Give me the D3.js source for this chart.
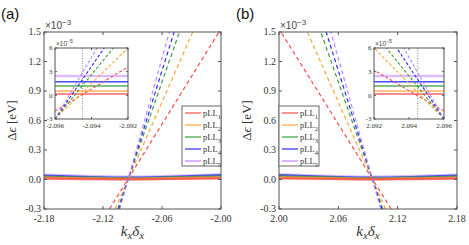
<!DOCTYPE html>
<html>
<head>
<meta charset="utf-8">
<script src="https://cdn.jsdelivr.net/npm/d3@7"></script>
<style>
  body { margin: 0; background: #fff; }
  svg { display: block; }
  text { font-family: "Liberation Serif", "DejaVu Serif", serif; fill: #333; }
</style>
</head>
<body>
<script>
// level names and colours
const levelNames = ["1", "2", "3", "4", "5"];
const colors = ["#ff4a4a", "#ffa53a", "#3a9e3a", "#2a2aff", "#bd86ff"];

// axis ticks
const yTicks = [-0.3, 0.0, 0.3, 0.6, 0.9, 1.2, 1.5];
const xTicksA = [-2.18, -2.12, -2.06, -2.00];
const xTicksB = [2.00, 2.06, 2.12, 2.18];
const insetYTicks = [-3, 0, 3, 6];
const insetXTicksA = [-2.096, -2.094, -2.092];
const insetXTicksB = [2.092, 2.094, 2.096];

// solid curves (x1e-3 eV)
const solidKxA = [-2.18, -2.14, -2.0945, -2.05, -2.00];
const solidKxB = [2.00, 2.05, 2.0945, 2.14, 2.18];
const solidA = [
  [0.010, 0.005, 0.0016, 0.006, 0.011],
  [0.019, 0.011, 0.0054, 0.012, 0.021],
  [0.029, 0.019, 0.0118, 0.020, 0.031],
  [0.039, 0.026, 0.0172, 0.027, 0.043],
  [0.044, 0.032, 0.0245, 0.033, 0.047]
];
const solidB = [
  [0.011, 0.006, 0.0016, 0.005, 0.010],
  [0.021, 0.012, 0.0054, 0.011, 0.019],
  [0.031, 0.020, 0.0118, 0.019, 0.029],
  [0.043, 0.027, 0.0172, 0.026, 0.039],
  [0.047, 0.033, 0.0245, 0.032, 0.044]
];

// dashed lines in main panels: [kx, de] end points
const dashA = [
  [[-2.1134, -0.3], [-2.0020, 1.5]],
  [[-2.1077, -0.3], [-2.0287, 1.5]],
  [[-2.1050, -0.3], [-2.0423, 1.5]],
  [[-2.1039, -0.3], [-2.0477, 1.5]],
  [[-2.1029, -0.3], [-2.0525, 1.5]]
];
const dashB = [
  [[2.1134, -0.3], [2.0020, 1.5]],
  [[2.1077, -0.3], [2.0287, 1.5]],
  [[2.1050, -0.3], [2.0423, 1.5]],
  [[2.1039, -0.3], [2.0477, 1.5]],
  [[2.1029, -0.3], [2.0525, 1.5]]
];

// insets (x1e-5 eV)
const insetLevels = [0.16, 0.54, 1.18, 1.72, 2.45];
const insetDashA = [
  [[-2.096, -2.0], [-2.092, 3.6]],
  [[-2.096, -3.0], [-2.092, 6.0]],
  [[-2.096, -3.0], [-2.0928, 6.0]],
  [[-2.096, -3.0], [-2.0933, 6.0]],
  [[-2.096, -3.0], [-2.0937, 6.0]]
];
const insetDashB = [
  [[2.096, -2.0], [2.092, 3.2]],
  [[2.096, -3.0], [2.092, 6.0]],
  [[2.096, -3.0], [2.0927, 6.0]],
  [[2.096, -3.0], [2.0933, 6.0]],
  [[2.096, -3.0], [2.0937, 6.0]]
];
const crossA = -2.0945, crossB = 2.0945;

const W = 469, H = 245;
const svg = d3.select("body").append("svg").attr("width", W).attr("height", H);

// plain hyphen for negative numbers, as in the figure
const hy = f => v => f(v).replace("\u2212", "-");

const defsEl = svg.append("defs");
let clipId = 0;
function clip(x, y, w, h) {
  const id = "clip" + (clipId++);
  defsEl.append("clipPath").attr("id", id)
    .append("rect").attr("x", x).attr("y", y).attr("width", w).attr("height", h);
  return "url(#" + id + ")";
}

// box with inward ticks on all four sides
function frame(g, x, y, w, h, xs, ys, xt, yt, tl, fs, fmtX, fmtY, labDx, labDy) {
  xt.forEach(t => {
    const px = xs(t);
    g.append("line").attr("x1", px).attr("x2", px).attr("y1", y + h).attr("y2", y + h - tl).attr("stroke", "#555");
    g.append("line").attr("x1", px).attr("x2", px).attr("y1", y).attr("y2", y + tl).attr("stroke", "#555");
    g.append("text").attr("x", px).attr("y", y + h + labDy).attr("text-anchor", "middle")
      .attr("font-size", fs).text(fmtX(t));
  });
  yt.forEach(t => {
    const py = ys(t);
    g.append("line").attr("x1", x).attr("x2", x + tl).attr("y1", py).attr("y2", py).attr("stroke", "#555");
    g.append("line").attr("x1", x + w).attr("x2", x + w - tl).attr("y1", py).attr("y2", py).attr("stroke", "#555");
    g.append("text").attr("x", x - labDx).attr("y", py).attr("dy", "0.33em").attr("text-anchor", "end")
      .attr("font-size", fs).text(fmtY(t));
  });
  g.append("rect").attr("x", x).attr("y", y).attr("width", w).attr("height", h)
    .attr("fill", "none").attr("stroke", "#555").attr("stroke-width", 1);
}

function sci(g, x, y, fs, exp) {
  const t = g.append("text").attr("x", x).attr("y", y).attr("font-size", fs)
    .style("font-family", "'Liberation Sans', sans-serif").style("fill", "#444");
  t.append("tspan").text("\u00d710");
  t.append("tspan").attr("dy", -fs * 0.45).attr("font-size", fs * 0.8).text(exp);
}

function panel(p) {
  const g = svg.append("g");
  const { x0, y0, w, h } = p;
  const xs = d3.scaleLinear().domain(p.xDomain).range([x0, x0 + w]);
  const ys = d3.scaleLinear().domain([-0.3, 1.5]).range([y0 + h, y0]);

  const plot = g.append("g").attr("clip-path", clip(x0, y0, w, h));
  const curve = d3.line().x(d => xs(d[0])).y(d => ys(d[1])).curve(d3.curveMonotoneX);
  const seg = d3.line().x(d => xs(d[0])).y(d => ys(d[1]));

  // solid curves, highest level drawn first
  d3.range(4, -1, -1).forEach(i => {
    plot.append("path").datum(p.kx.map((k, j) => [k, p.solid[i][j]]))
      .attr("d", curve).attr("fill", "none").attr("stroke", colors[i])
      .attr("stroke-width", i === 4 ? 3.2 : 2.4).attr("stroke-opacity", i === 4 ? 0.55 : 0.8);
  });
  p.dash.forEach((d, i) => {
    plot.append("path").datum(d).attr("d", seg).attr("fill", "none")
      .attr("stroke", colors[i]).attr("stroke-width", 1.2).attr("stroke-dasharray", "4,3");
  });

  frame(g, x0, y0, w, h, xs, ys, p.xTicks, yTicks, 3, 10,
    hy(d3.format(".2f")), hy(d3.format(".1f")), 3, 13);
  sci(g, x0 + 1, y0 - 3, 10, "\u22123");

  // inset
  const ix = p.inset;
  const ixs = d3.scaleLinear().domain(ix.xDomain).range([ix.x, ix.x + ix.w]);
  const iys = d3.scaleLinear().domain([-3, 6]).range([ix.y + ix.h, ix.y]);
  g.append("rect").attr("x", ix.x).attr("y", ix.y).attr("width", ix.w).attr("height", ix.h).attr("fill", "#fff");
  const ip = g.append("g").attr("clip-path", clip(ix.x, ix.y, ix.w, ix.h));
  const iseg = d3.line().x(d => ixs(d[0])).y(d => iys(d[1]));
  ip.append("line").attr("x1", ixs(ix.cross)).attr("x2", ixs(ix.cross))
    .attr("y1", ix.y).attr("y2", ix.y + ix.h).attr("stroke", "#666")
    .attr("stroke-width", 0.8).attr("stroke-dasharray", "1,1.5");
  d3.range(4, -1, -1).forEach(i => {
    ip.append("path").datum([[ix.xDomain[0], insetLevels[i]], [ix.xDomain[1], insetLevels[i]]])
      .attr("d", iseg).attr("fill", "none").attr("stroke", colors[i])
      .attr("stroke-width", i === 4 ? 2.6 : 1.6).attr("stroke-opacity", i === 4 ? 0.55 : 0.85);
  });
  ix.dash.forEach((d, i) => {
    ip.append("path").datum(d).attr("d", iseg).attr("fill", "none")
      .attr("stroke", colors[i]).attr("stroke-width", 1.1).attr("stroke-dasharray", "3,2");
  });
  frame(g, ix.x, ix.y, ix.w, ix.h, ixs, iys, ix.xTicks, insetYTicks, 2, 7,
    hy(d3.format(".3f")), hy(d3.format("d")), 2.5, 9);
  sci(g, ix.x + 1, ix.y - 2, 6.5, "\u22125");

  // legend
  const L = p.legend;
  g.append("rect").attr("x", L.x).attr("y", L.y).attr("width", L.w).attr("height", L.h)
    .attr("fill", "#fff").attr("stroke", "#666").attr("stroke-width", 1);
  levelNames.forEach((n, i) => {
    const yy = L.y + 7 + i * 12;
    g.append("line").attr("x1", L.x + 3).attr("x2", L.x + 19).attr("y1", yy).attr("y2", yy)
      .attr("stroke", colors[i]).attr("stroke-width", 1.2);
    const t = g.append("text").attr("x", L.x + 21).attr("y", yy + 3).attr("font-size", 8.5);
    t.append("tspan").text("pLL");
    t.append("tspan").attr("dy", 3).attr("font-size", 6.5).text(n);
  });

  // axis labels
  const yl = g.append("text").attr("transform", `translate(${x0 - 28},${y0 + h / 2}) rotate(-90)`)
    .attr("text-anchor", "middle").attr("font-size", 13);
  yl.append("tspan").text("\u0394");
  yl.append("tspan").attr("font-style", "italic").text("\u03f5");
  yl.append("tspan").text(" [eV]");

  const xl = g.append("text").attr("x", x0 + w / 2).attr("y", y0 + h + 27)
    .attr("text-anchor", "middle").attr("font-size", 15).attr("font-style", "italic");
  xl.append("tspan").text("k");
  xl.append("tspan").attr("dy", 3).attr("font-size", 11).text("x");
  xl.append("tspan").attr("dy", -3).text("\u03b4");
  xl.append("tspan").attr("dy", 3).attr("font-size", 11).text("x");

  g.append("text").attr("x", p.tag[0]).attr("y", p.tag[1]).attr("font-size", 15)
    .style("font-family", "'Liberation Sans', Arial, sans-serif").style("fill", "#111").text(p.tagText);
}

panel({
  x0: 44, y0: 32, w: 177, h: 177, xDomain: [-2.18, -2.00], xTicks: xTicksA,
  kx: solidKxA, solid: solidA, dash: dashA,
  inset: { x: 55, y: 48, w: 73, h: 71, xDomain: [-2.096, -2.092], xTicks: insetXTicksA, dash: insetDashA, cross: crossA },
  legend: { x: 182, y: 106, w: 39, h: 60 },
  tag: [1, 19], tagText: "(a)"
});
panel({
  x0: 279, y0: 32, w: 178, h: 177, xDomain: [2.00, 2.18], xTicks: xTicksB,
  kx: solidKxB, solid: solidB, dash: dashB,
  inset: { x: 374, y: 48, w: 70, h: 71, xDomain: [2.092, 2.096], xTicks: insetXTicksB, dash: insetDashB, cross: crossB },
  legend: { x: 279, y: 106, w: 40, h: 60 },
  tag: [236, 19], tagText: "(b)"
});
</script>
</body>
</html>
